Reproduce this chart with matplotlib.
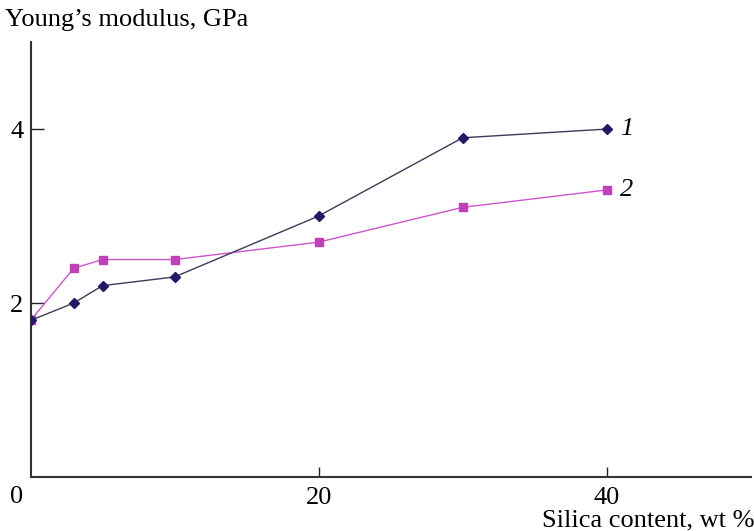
import matplotlib.pyplot as plt

plt.rcParams['font.family'] = ['Liberation Serif', 'DejaVu Serif']

# silica content, wt %
silica = [0, 3, 5, 10, 20, 30, 40]
# Young's modulus, GPa
modulus_1 = [1.8, 2.0, 2.2, 2.3, 3.0, 3.9, 4.0]
modulus_2 = [1.8, 2.4, 2.5, 2.5, 2.7, 3.1, 3.3]
series_labels = ['1', '2']

fig = plt.figure(figsize=(7.54, 5.31), dpi=100)
ax = fig.add_axes([0.0405, 0.1017, 0.955, 0.819])

ax.plot(silica, modulus_1, color='#3c3a5c', lw=1.0, marker='D', ms=5,
        mfc='#1e1a66', mec='#1e1a66', zorder=3)
ax.plot(silica, modulus_2, color='#cc55cc', lw=1.0, marker='s', ms=6,
        mfc='#c040b8', mec='#c040b8', zorder=2)

# curve numbers next to the last points
for lab, ys in zip(series_labels, [modulus_1, modulus_2]):
    ax.annotate(lab, (silica[-1], ys[-1]), xytext=(10, 0),
                textcoords='offset points', va='center', ha='left',
                fontsize=19, style='italic')

ax.set_xlim(0, 50)
ax.set_ylim(0, 5)
ax.set_xticks([20, 40])
ax.set_yticks([2, 4])
ax.tick_params(direction='in', length=7, width=1, labelsize=19, pad=7,
               color='#222222')
ax.tick_params(axis='y', length=9, pad=5)

for side in ['top', 'right']:
    ax.spines[side].set_visible(False)
for side in ['left', 'bottom']:
    ax.spines[side].set_linewidth(1.5)
    ax.spines[side].set_color('#333333')

# shared origin label
ax.text(-0.019, -0.02, '0', transform=ax.transAxes, fontsize=19,
        ha='center', va='top')

ax.text(-0.035, 1.025, 'Young\u2019s modulus, GPa', transform=ax.transAxes,
        fontsize=19, ha='left', va='bottom')
ax.text(1.005, -0.1, 'Silica content, wt %', transform=ax.transAxes,
        fontsize=19, ha='right', va='center')

fig.savefig('out.png', dpi=100)
